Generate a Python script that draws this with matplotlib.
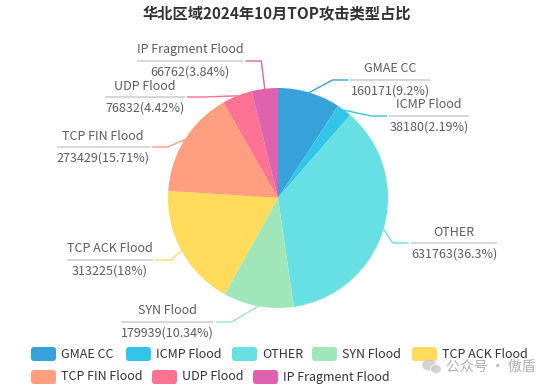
import matplotlib
matplotlib.use("Agg")
import matplotlib.pyplot as plt
from matplotlib.patches import FancyBboxPatch, Ellipse
import numpy as np

plt.rcParams['font.family'] = ['Noto Sans CJK SC', 'DejaVu Sans']

title = "华北区域2024年10月TOP攻击类型占比"
names = ["GMAE CC", "ICMP Flood", "OTHER", "SYN Flood", "TCP ACK Flood",
         "TCP FIN Flood", "UDP Flood", "IP Fragment Flood"]
values = [160171, 38180, 631763, 179939, 313225, 273429, 76832, 66762]
pcts = ["9.2", "2.19", "36.3", "10.34", "18", "15.71", "4.42", "3.84"]
colors = ['#37A2DA', '#32C5E9', '#67E0E3', '#9FE6B8', '#FFDB5C',
          '#ff9f7f', '#fb7293', '#E062AE']

# label block layout: center x, underline y, side (+1 right, -1 left)
label_pos = [(390, 80, 1), (429, 116, 1), (454, 243, 1), (167, 322, -1),
             (110, 260, -1), (103, 147, -1), (145, 97, -1), (190, 61, -1)]

# legend icon positions (left x, center y)
legend_pos = [(31, 354), (126, 354), (232, 354), (312, 354), (412, 354),
              (31, 377), (152, 377), (253, 377)]

W, H = 554, 388
cx, cy, r = 278, 198, 110

fig = plt.figure(figsize=(W / 100, H / 100), dpi=100)
ax = fig.add_axes([0, 0, 1, 1])

wedges, _ = ax.pie(values, colors=colors, startangle=-90, counterclock=True,
                   center=(cx, cy), radius=r, wedgeprops=dict(linewidth=0))
ax.set_xlim(0, W)
ax.set_ylim(H, 0)
ax.set_aspect('auto')
ax.axis('off')

ax.text(277, 14, title, ha='center', va='center', fontsize=11,
        fontweight='bold', color='#333333')

fig.canvas.draw()
rend = fig.canvas.get_renderer()
inv = ax.transData.inverted()

txt_col = '#5c5c5c'
for i, w in enumerate(wedges):
    bx, ly, side = label_pos[i]
    t1 = ax.text(bx, ly - 11, names[i], ha='center', va='center', fontsize=9, color=txt_col)
    t2 = ax.text(bx, ly + 11, "%d(%s%%)" % (values[i], pcts[i]), ha='center', va='center',
                 fontsize=9, color=txt_col)
    wid = 0
    for t in (t1, t2):
        bb = t.get_window_extent(rend)
        p0 = inv.transform((bb.x0, bb.y0))
        p1 = inv.transform((bb.x1, bb.y1))
        wid = max(wid, abs(p1[0] - p0[0]))
    ax.plot([bx - wid / 2, bx + wid / 2], [ly, ly], color='#d4d4d4', lw=1.3,
            solid_capstyle='butt')
    # leader line
    th = np.deg2rad((w.theta1 + w.theta2) / 2)
    ex, ey = cx + r * np.cos(th), cy + r * np.sin(th)
    near = bx - side * wid / 2
    ax.plot([ex, near - side * 18, near - side * 3], [ey, ly, ly],
            color=colors[i], lw=1)

# legend
for i, (lx, lyy) in enumerate(legend_pos):
    ax.add_patch(FancyBboxPatch((lx, lyy - 7), 25, 14,
                                boxstyle="round,pad=0,rounding_size=3",
                                fc=colors[i], ec='none'))
    ax.text(lx + 30, lyy, names[i], ha='left', va='center', fontsize=9,
            color='#333333')

# watermark
ax.add_patch(Ellipse((429, 365), 14, 11, fc='#c8c8c8', ec='none', alpha=0.8))
ax.add_patch(Ellipse((436, 369), 11, 9, fc='#c8c8c8', ec='white', lw=0.8, alpha=0.8))
ax.text(446, 367, "公众号 · 傲盾", ha='left', va='center', fontsize=10,
        color='#b0b0b0')

fig.savefig("out.png", dpi=100)
